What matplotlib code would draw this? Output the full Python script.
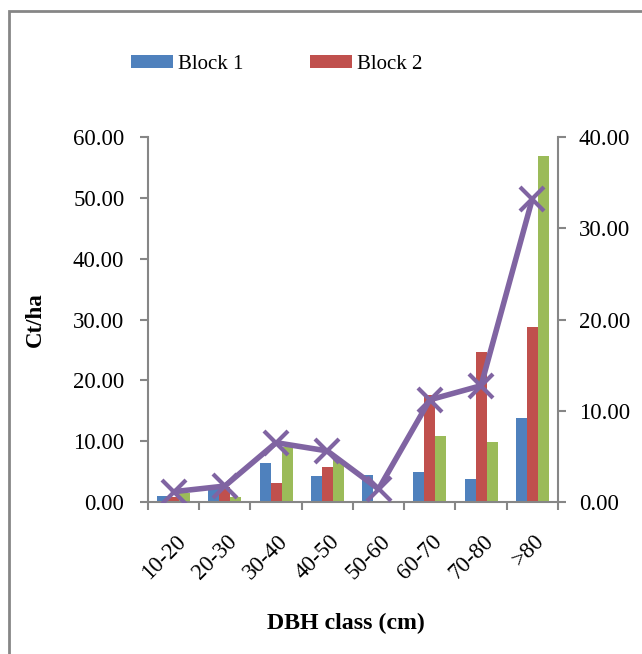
import numpy as np
import matplotlib
matplotlib.use("Agg")
import matplotlib.pyplot as plt
import matplotlib.transforms as mtransforms
from matplotlib.patches import Rectangle

# DBH classes and carbon stock per block (Ct/ha)
classes = ["10-20", "20-30", "30-40", "40-50", "50-60", "60-70", "70-80", ">80"]
block1 = [1.0, 2.25, 6.35, 4.3, 4.45, 5.0, 3.8, 13.8]
block2 = [0.9, 2.4, 3.2, 5.7, 0.0, 17.6, 24.6, 28.7]
block3 = [1.5, 0.87, 9.1, 6.85, 0.0, 10.8, 9.9, 56.9]
# secondary axis series
mean_line = [1.13, 1.75, 6.5, 5.6, 1.42, 11.2, 12.75, 33.2]

plt.rcParams['font.family'] = ['Liberation Serif', 'DejaVu Serif']
FS = 16.5
GRAY = "#868686"

fig = plt.figure(figsize=(6.42, 6.54), dpi=100)
ax = fig.add_axes([0.2305, 0.2324, 0.6385, 0.5581])

x = np.arange(len(classes))
w = 0.215
ax.bar(x - w, block1, w, color="#4F81BD", label="Block 1")
ax.bar(x, block2, w, color="#C0504D", label="Block 2")
ax.bar(x + w, block3, w, color="#9BBB59", label="Block 3")

ax.set_xlim(-0.5, len(classes) - 0.5)
ax.set_ylim(0, 60)
ax.set_yticks(np.arange(0, 61, 10))
ax.set_yticklabels([f"{v:.2f}" for v in np.arange(0, 61, 10)], fontsize=FS)
ax.set_xticks(np.arange(-0.5, len(classes), 1.0))
ax.set_xticklabels([])
ax.set_xticks(x, minor=True)
ax.set_xticklabels(classes, minor=True, rotation=45, ha="right", va="center",
                   rotation_mode="anchor", fontsize=FS)
ax.tick_params(axis="x", which="minor", length=0, pad=26)
ax.tick_params(axis="x", which="major", length=6, color=GRAY, width=1.5, direction="out")
ax.tick_params(axis="y", length=6, color=GRAY, width=1.5, pad=11)
shift = mtransforms.ScaledTranslation(9 / 100, 0, fig.dpi_scale_trans)
for lab in ax.get_xticklabels(minor=True):
    lab.set_transform(lab.get_transform() + shift)

for s in ["top", "right"]:
    ax.spines[s].set_visible(False)
for s in ["left", "bottom"]:
    ax.spines[s].set_color(GRAY)
    ax.spines[s].set_linewidth(1.5)

ax2 = ax.twinx()
ax2.plot(x, mean_line, color="#8064A2", lw=4, marker="x", ms=17, mew=3, zorder=5)
ax2.set_ylim(0, 40)
ax2.set_yticks(np.arange(0, 41, 10))
ax2.set_yticklabels([f"{v:.2f}" for v in np.arange(0, 41, 10)], fontsize=FS)
ax2.tick_params(axis="y", length=6, color=GRAY, width=1.5, pad=9)
for s in ["top", "left", "bottom"]:
    ax2.spines[s].set_visible(False)
ax2.spines["right"].set_color(GRAY)
ax2.spines["right"].set_linewidth(1.5)

ax.set_ylabel("Ct/ha", fontsize=FS, fontweight="bold")
ax.yaxis.set_label_coords(-0.25, 0.5)
fig.text(0.539, 0.047, "DBH class (cm)", fontsize=17.2, fontweight="bold",
         ha="center", va="center")

handles, labels = ax.get_legend_handles_labels()
fig.legend(handles[:2], labels[:2], loc="center left", bbox_to_anchor=(0.175, 0.902),
           ncol=2, frameon=False, fontsize=15, handlelength=2.02, handleheight=0.58,
           handletextpad=0.24, columnspacing=3.17)

# outer chart frame (cut off at right/bottom)
fig.patches.append(Rectangle((9 / 642, -0.1), 1.2, 1 - 11 / 654 + 0.1,
                             transform=fig.transFigure, fill=False,
                             edgecolor=GRAY, lw=2))

fig.savefig("out.png", dpi=100)
